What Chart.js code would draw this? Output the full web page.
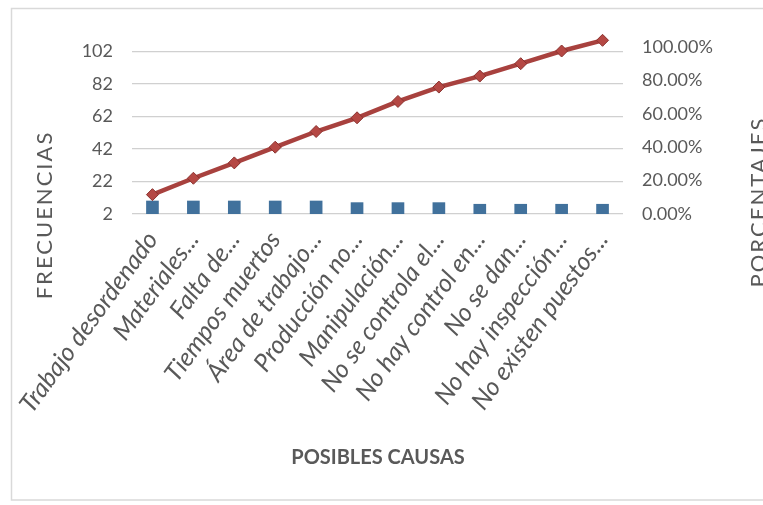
<!DOCTYPE html>
<html>
<head>
<meta charset="utf-8">
<script src="https://cdn.jsdelivr.net/npm/chart.js@4.4.1/dist/chart.umd.min.js"></script>
<style>
  html, body { margin: 0; padding: 0; background: #fff; overflow: hidden; }
  #wrap { position: relative; width: 763px; height: 505px; }
</style>
</head>
<body>
<div id="wrap"><canvas id="chart"></canvas></div>
<script>
// Pareto de posibles causas
const CATEGORIES = [
  'Trabajo desordenado', 'Materiales...', 'Falta de...', 'Tiempos muertos',
  'Área de trabajo...', 'Producción no...', 'Manipulación...', 'No se controla el...',
  'No hay control en...', 'No se dan...', 'No hay inspección...', 'No existen puestos...'
];
const FRECUENCIAS = [10, 10, 10, 10, 10, 9, 9, 9, 8, 8, 8, 8];
const PORCENTAJE_ACUM = [0.116, 0.214, 0.306, 0.400, 0.494, 0.576, 0.674, 0.760, 0.826, 0.900, 0.976, 1.04];
const LEFT_TICKS = [2, 22, 42, 62, 82, 102];
const RIGHT_TICKS = [0, 0.2, 0.4, 0.6, 0.8, 1];

const FONT = "Lato, 'Open Sans', sans-serif";
const TICK_COLOR = '#595959';
const GRID_COLOR = '#d0d0d0';

// plot area: y 35..214 (top kept loose so the last marker isn't dropped)
const AREA_TOP = 35;
const AREA_BOTTOM = 214;
const PX_PER_FREQ = 1.625;
const PX_PER_PCT = 167;

// frame + axis titles drawn at fixed spots, like the Excel original
const framePlugin = {
  id: 'frame',
  beforeDraw(chart) {
    const ctx = chart.ctx;
    ctx.save();
    ctx.fillStyle = '#fff';
    ctx.fillRect(0, 0, chart.width, chart.height);
    ctx.strokeStyle = '#d9d9d9';
    ctx.lineWidth = 1.5;
    ctx.strokeRect(11.5, 8.5, 800, 491.5);
    ctx.restore();
  },
  afterDraw(chart) {
    const ctx = chart.ctx;
    ctx.save();
    ctx.fillStyle = TICK_COLOR;
    ctx.textAlign = 'center';
    ctx.textBaseline = 'middle';
    ctx.letterSpacing = '2px';
    ctx.font = '22px ' + FONT;
    [['FRECUENCIAS', 45, 215], ['PORCENTAJES', 759, 202]].forEach(([t, x, y]) => {
      ctx.save();
      ctx.translate(x, y);
      ctx.rotate(-Math.PI / 2);
      ctx.fillText(t, 0, 0);
      ctx.restore();
    });
    ctx.letterSpacing = '0px';
    ctx.font = 'bold 20px ' + FONT;
    ctx.fillText('POSIBLES CAUSAS', 378, 458);
    ctx.restore();
  }
};

new Chart(document.getElementById('chart'), {
  data: {
    labels: CATEGORIES,
    datasets: [
      {
        type: 'line',
        label: 'Porcentaje acumulado',
        data: PORCENTAJE_ACUM,
        yAxisID: 'y1',
        order: 0,
        borderColor: '#A8413E',
        borderWidth: 4.5,
        tension: 0,
        clip: false,
        pointStyle: 'rectRot',
        pointRadius: 6,
        pointBackgroundColor: '#B54844',
        pointBorderColor: '#8B3330',
        pointBorderWidth: 1
      },
      {
        type: 'bar',
        label: 'Frecuencia',
        data: FRECUENCIAS,
        yAxisID: 'y',
        order: 1,
        backgroundColor: '#41719C',
        barThickness: 12
      }
    ]
  },
  options: {
    responsive: true,
    maintainAspectRatio: false,
    animation: false,
    layout: { padding: { top: AREA_TOP, left: 0, right: 0, bottom: 0 } },
    plugins: {
      legend: { display: false },
      tooltip: { enabled: false }
    },
    scales: {
      x: {
        grid: { display: false },
        border: { display: false },
        ticks: {
          color: TICK_COLOR,
          font: { family: FONT, size: 25, style: 'italic' },
          minRotation: 54,
          maxRotation: 54,
          autoSkip: false,
          padding: 4
        },
        afterFit(s) { s.height = 505 - AREA_BOTTOM; }
      },
      y: {
        position: 'left',
        min: 2,
        max: 2 + (AREA_BOTTOM - AREA_TOP) / PX_PER_FREQ,
        afterBuildTicks(s) { s.ticks = LEFT_TICKS.map(v => ({ value: v })); },
        grid: { color: GRID_COLOR, lineWidth: 1.2, drawTicks: false },
        border: { display: false },
        ticks: { color: TICK_COLOR, font: { family: FONT, size: 18 }, padding: 19 },
        afterFit(s) { s.width = 132; }
      },
      y1: {
        position: 'right',
        min: 0,
        max: (AREA_BOTTOM - AREA_TOP) / PX_PER_PCT,
        afterBuildTicks(s) { s.ticks = RIGHT_TICKS.map(v => ({ value: v })); },
        grid: { display: false, drawTicks: false },
        border: { display: false },
        ticks: {
          color: TICK_COLOR,
          font: { family: FONT, size: 18 },
          padding: 19,
          callback: v => (v * 100).toFixed(2) + '%'
        },
        afterFit(s) { s.width = 763 - 623; }
      }
    }
  },
  plugins: [framePlugin]
});
</script>
</body>
</html>
